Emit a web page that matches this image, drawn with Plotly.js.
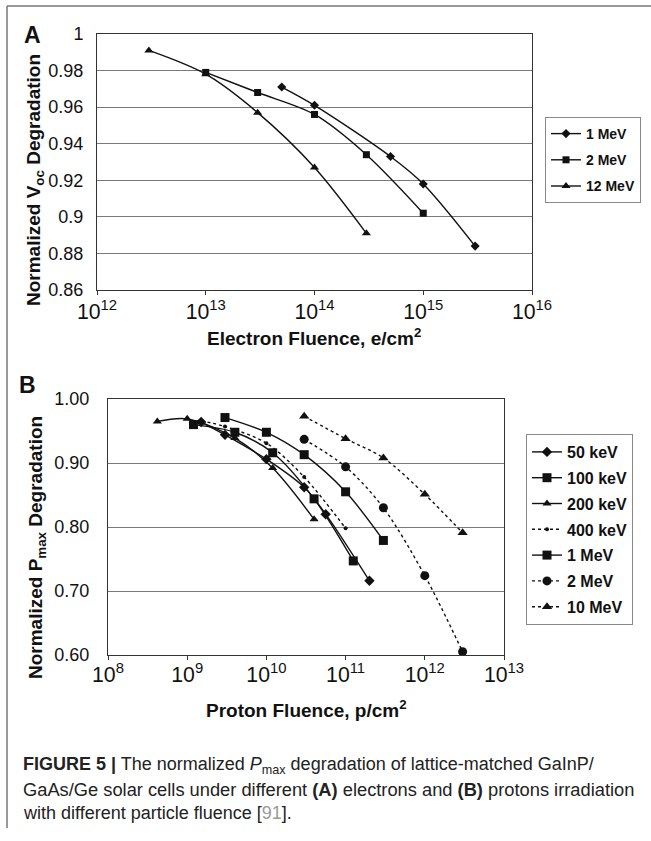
<!DOCTYPE html>
<html>
<head>
<meta charset="utf-8">
<script src="https://cdn.plot.ly/plotly-3.0.1.min.js"></script>
<style>
html,body{margin:0;padding:0;background:#fff;}
#chart{width:651px;height:841px;}
</style>
</head>
<body>
<div id="chart"></div>
<script>
// ---------- Panel A: electrons (Voc degradation) ----------
const A_names = ["1 MeV", "2 MeV", "12 MeV"];
const A_1MeV_x = [5e13, 1e14, 5e14, 1e15, 3e15];
const A_1MeV_y = [0.971, 0.961, 0.933, 0.918, 0.884];
const A_2MeV_x = [1e13, 3e13, 1e14, 3e14, 1e15];
const A_2MeV_y = [0.979, 0.968, 0.956, 0.934, 0.902];
const A_12MeV_x = [3e12, 1e13, 3e13, 1e14, 3e14];
const A_12MeV_y = [0.991, 0.978, 0.957, 0.927, 0.891];
const A_yticks = [0.86, 0.88, 0.9, 0.92, 0.94, 0.96, 0.98, 1];
const A_yticktext = ["0.86", "0.88", "0.9", "0.92", "0.94", "0.96", "0.98", "1"];

// ---------- Panel B: protons (Pmax degradation) ----------
const B_names = ["50 keV", "100 keV", "200 keV", "400 keV", "1 MeV", "2 MeV", "10 MeV"];
const B_50keV_x = [1.5e9, 3e9, 1e10, 3e10, 5.6e10, 2e11];
const B_50keV_y = [0.964, 0.944, 0.906, 0.862, 0.820, 0.716];
const B_100keV_x = [1.2e9, 4e9, 1.2e10, 4e10, 1.25e11];
const B_100keV_y = [0.960, 0.948, 0.916, 0.844, 0.747];
const B_200keV_x = [4.2e8, 1e9, 4e9, 1.2e10, 4e10];
const B_200keV_y = [0.965, 0.969, 0.939, 0.892, 0.812];
const B_400keV_x = [1.5e9, 3e9, 1e10, 3e10, 1e11];
const B_400keV_y = [0.966, 0.957, 0.931, 0.878, 0.798];
const B_1MeV_x = [3e9, 1e10, 3e10, 1e11, 3e11];
const B_1MeV_y = [0.971, 0.948, 0.913, 0.855, 0.779];
const B_2MeV_x = [3e10, 1e11, 3e11, 1e12, 3e12];
const B_2MeV_y = [0.937, 0.894, 0.830, 0.724, 0.605];
const B_10MeV_x = [3e10, 1e11, 3e11, 1e12, 3e12];
const B_10MeV_y = [0.973, 0.938, 0.908, 0.851, 0.791];

// ---------- helpers ----------
const W = 651, H = 841;
const px = v => v / W;
const py = v => 1 - v / H;
const FONT = '"Liberation Sans", Arial, Helvetica, sans-serif';

function tr(x, y, name, symbol, size, dash, xa, ya, leg, grp) {
  return {
    x: x, y: y, name: name, type: 'scatter', mode: 'lines+markers',
    xaxis: xa, yaxis: ya, legend: leg, legendgroup: grp,
    line: {color: '#111', width: 1.4, dash: dash, shape: 'spline', smoothing: 0.9},
    marker: {color: '#111', symbol: symbol, size: size}
  };
}

const data = [
  tr(A_1MeV_x, A_1MeV_y, A_names[0], 'diamond', 7, 'solid', 'x', 'y', 'legend', 'a1'),
  tr(A_2MeV_x, A_2MeV_y, A_names[1], 'square', 7, 'solid', 'x', 'y', 'legend', 'a2'),
  tr(A_12MeV_x, A_12MeV_y, A_names[2], 'triangle-up', 8, 'solid', 'x', 'y', 'legend', 'a3'),
  tr(B_50keV_x, B_50keV_y, B_names[0], 'diamond', 8, 'solid', 'x2', 'y2', 'legend2', 'b1'),
  tr(B_100keV_x, B_100keV_y, B_names[1], 'square', 9, 'solid', 'x2', 'y2', 'legend2', 'b2'),
  tr(B_200keV_x, B_200keV_y, B_names[2], 'triangle-up', 8, 'solid', 'x2', 'y2', 'legend2', 'b3'),
  tr(B_400keV_x, B_400keV_y, B_names[3], 'circle', 4, 'dot', 'x2', 'y2', 'legend2', 'b4'),
  tr(B_1MeV_x, B_1MeV_y, B_names[4], 'square', 9, 'solid', 'x2', 'y2', 'legend2', 'b5'),
  tr(B_2MeV_x, B_2MeV_y, B_names[5], 'circle', 9, 'dot', 'x2', 'y2', 'legend2', 'b6'),
  tr(B_10MeV_x, B_10MeV_y, B_names[6], 'triangle-up', 9, 'dot', 'x2', 'y2', 'legend2', 'b7')
];

const axisCommon = {
  showline: true, linecolor: '#333', linewidth: 1, mirror: true,
  zeroline: false, tickfont: {family: FONT, size: 18, color: '#111'}
};
const xTickFont = {family: FONT, size: 17, color: '#111'};

const layout = {
  width: W, height: H,
  margin: {l: 0, r: 0, t: 0, b: 0},
  paper_bgcolor: '#fff', plot_bgcolor: '#fff',
  font: {family: FONT, color: '#111'},
  xaxis: Object.assign({}, axisCommon, {
    domain: [px(97), px(532)], anchor: 'y', type: 'log', range: [12, 16], dtick: 1,
    exponentformat: 'power', showgrid: false, ticks: 'outside', ticklen: 4, tickcolor: '#333',
    ticklabelstandoff: -1, tickfont: xTickFont
  }),
  yaxis: Object.assign({}, axisCommon, {
    domain: [py(290), py(34)], anchor: 'x', range: [0.86, 1],
    tickvals: A_yticks, ticktext: A_yticktext,
    showgrid: true, gridcolor: '#7a7a7a', gridwidth: 1, ticks: '', ticklabelstandoff: 9
  }),
  xaxis2: Object.assign({}, axisCommon, {
    domain: [px(108), px(504)], anchor: 'y2', type: 'log', range: [8, 13], dtick: 1,
    exponentformat: 'power', showgrid: false, ticks: 'outside', ticklen: 4, tickcolor: '#333',
    ticklabelstandoff: -3, tickfont: xTickFont
  }),
  yaxis2: Object.assign({}, axisCommon, {
    domain: [py(655), py(399)], anchor: 'x2', range: [0.6, 1], dtick: 0.1, tickformat: '.2f',
    showgrid: true, gridcolor: '#7a7a7a', gridwidth: 1, ticks: '', ticklabelstandoff: 14
  }),
  showlegend: true,
  legend: {
    x: px(545), y: py(117), xanchor: 'left', yanchor: 'top',
    bordercolor: '#888', borderwidth: 1, bgcolor: '#fff',
    font: {family: FONT, size: 14, color: '#111', weight: 'bold'},
    traceorder: 'grouped', tracegroupgap: 5, itemwidth: 30
  },
  legend2: {
    x: px(526), y: py(434), xanchor: 'left', yanchor: 'top',
    bordercolor: '#888', borderwidth: 1, bgcolor: '#fff',
    font: {family: FONT, size: 16, color: '#111', weight: 'bold'},
    traceorder: 'grouped', tracegroupgap: 2, itemwidth: 30
  },
  shapes: [
    {type: 'line', xref: 'paper', yref: 'paper', x0: px(7), x1: 1, y0: py(6), y1: py(6), line: {color: '#777', width: 1.5}},
    {type: 'line', xref: 'paper', yref: 'paper', x0: px(7), x1: px(7), y0: py(6), y1: py(828), line: {color: '#777', width: 1.5}}
  ],
  annotations: [
    {text: '<b>A</b>', x: px(32), y: py(35), xref: 'paper', yref: 'paper', showarrow: false, xanchor: 'center', yanchor: 'middle', font: {size: 23, family: FONT}},
    {text: '<b>B</b>', x: px(27), y: py(385), xref: 'paper', yref: 'paper', showarrow: false, xanchor: 'center', yanchor: 'middle', font: {size: 23, family: FONT}},
    {text: '<b>Normalized V<sub>oc</sub> Degradation</b>', x: px(35), y: py(180), xref: 'paper', yref: 'paper', showarrow: false, textangle: -90, xanchor: 'center', yanchor: 'middle', font: {size: 19, family: FONT}},
    {text: '<b>Electron Fluence, e/cm<sup>2</sup></b>', x: px(314), y: py(337), xref: 'paper', yref: 'paper', showarrow: false, xanchor: 'center', yanchor: 'middle', font: {size: 19, family: FONT}},
    {text: '<b>Normalized P<sub>max</sub> Degradation</b>', x: px(37), y: py(548), xref: 'paper', yref: 'paper', showarrow: false, textangle: -90, xanchor: 'center', yanchor: 'middle', font: {size: 19, family: FONT}},
    {text: '<b>Proton Fluence, p/cm<sup>2</sup></b>', x: px(306), y: py(709), xref: 'paper', yref: 'paper', showarrow: false, xanchor: 'center', yanchor: 'middle', font: {size: 19, family: FONT}},
    {text: '<b>FIGURE 5 |</b> The normalized <i>P</i><sub>max</sub> degradation of lattice-matched GaInP/', x: px(21), y: py(765), xref: 'paper', yref: 'paper', showarrow: false, xanchor: 'left', yanchor: 'middle', font: {size: 18, family: FONT, color: '#222'}},
    {text: 'GaAs/Ge solar cells under different <b>(A)</b> electrons and <b>(B)</b> protons irradiation', x: px(21), y: py(789), xref: 'paper', yref: 'paper', showarrow: false, xanchor: 'left', yanchor: 'middle', font: {size: 18.3, family: FONT, color: '#222'}},
    {text: 'with different particle fluence [<span style="color:#9a9a9a">91</span>].', x: px(21), y: py(813), xref: 'paper', yref: 'paper', showarrow: false, xanchor: 'left', yanchor: 'middle', font: {size: 18, family: FONT, color: '#222'}}
  ]
};

Plotly.newPlot('chart', data, layout, {displayModeBar: false, staticPlot: true});
</script>
</body>
</html>
